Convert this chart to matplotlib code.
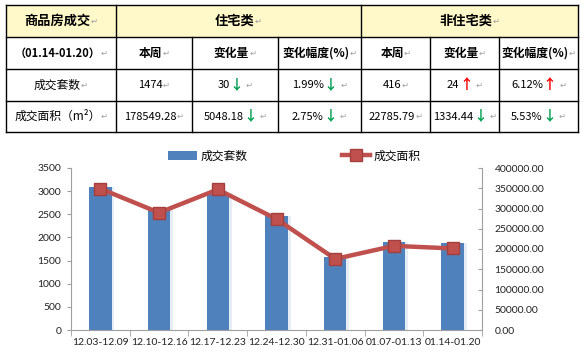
import numpy as np
import matplotlib
matplotlib.use('Agg')
import matplotlib.pyplot as plt
from matplotlib.patches import Rectangle

#%% data
periods = ['12.03-12.09', '12.10-12.16', '12.17-12.23', '12.24-12.30',
           '12.31-01.06', '01.07-01.13', '01.14-01.20']
units = [3080, 2590, 2960, 2460, 1580, 1896, 1890]          # 成交套数
area = [349000, 289600, 347000, 274000, 175500, 207717.69, 201335.07]  # 成交面积

head_title = '商品房成交'
head_groups = ['住宅类', '非住宅类']
week_label = '（01.14-01.20）'
sub_heads = ['本周', '变化量', '变化幅度(%)', '本周', '变化量', '变化幅度(%)']
row_names = ['成交套数', '成交面积（m²）']
row_now_res = ['1474', '178549.28']
row_chg_res = ['30', '5048.18']
row_pct_res = ['1.99%', '2.75%']
row_now_non = ['416', '22785.79']
row_chg_non = ['24', '1334.44']
row_pct_non = ['6.12%', '5.53%']
row_dir_res = ['down', 'down']
row_dir_non = [['up', 'up'], ['down', 'down']]

FAM = ['Noto Sans CJK SC', 'DejaVu Sans']
BLUE = '#4F81BD'
RED = '#C0504D'

fig = plt.figure(figsize=(5.83, 3.53), dpi=100)

#%% table (pixel coords)
tax = fig.add_axes([0, 0, 1, 1])
tax.set_xlim(0, 583)
tax.set_ylim(353, 0)
tax.axis('off')

cols = [6, 116, 192, 278, 361, 430, 499, 578]
rows = [5, 37, 69, 101, 132]
tax.add_patch(Rectangle((cols[0], rows[0]), cols[-1] - cols[0], rows[1] - rows[0],
                        facecolor='#FFF8C8', edgecolor='none'))
for y in rows:
    tax.plot([cols[0], cols[-1]], [y, y], color='black', lw=1)
for x in cols:
    if x in (6, 116, 361, 578):
        tax.plot([x, x], [rows[0], rows[-1]], color='black', lw=1)
    else:
        tax.plot([x, x], [rows[1], rows[-1]], color='black', lw=1)

renderer = fig.canvas.get_renderer()


def cell(xc, y, parts):
    texts = []
    for s, color, size, weight in parts:
        t = tax.text(0, y, s, color=color, fontsize=size, fontweight=weight,
                     va='center', ha='left', family=FAM)
        texts.append(t)
    widths = [t.get_window_extent(renderer).width for t in texts]
    x = xc - sum(widths) / 2
    for t, w in zip(texts, widths):
        t.set_x(x)
        x += w


RET = ('↵', '#A0A0A0', 6, 'normal')


def arrow(d):
    if d == 'up':
        return ('↑', '#FF0000', 10, 'heavy')
    return ('↓', '#00A050', 10, 'heavy')


mid = lambda a, b: (a + b) / 2
yr = [mid(rows[i], rows[i + 1]) for i in range(4)]

cell(mid(cols[0], cols[1]), yr[0], [(head_title, 'black', 9.5, 'bold'), RET])
cell(mid(cols[1], cols[4]), yr[0], [(head_groups[0], 'black', 9.5, 'bold'), RET])
cell(mid(cols[4], cols[7]), yr[0], [(head_groups[1], 'black', 9.5, 'bold'), RET])
cell(mid(cols[0], cols[1]), yr[1], [(week_label, 'black', 8, 'bold'), RET])
for i, h in enumerate(sub_heads):
    cell(mid(cols[i + 1], cols[i + 2]), yr[1], [(h, 'black', 8.5, 'bold'), RET])

for r in range(2):
    y = yr[r + 2]
    cell(mid(cols[0], cols[1]), y, [(row_names[r], 'black', 8.5, 'normal'), RET])
    cell(mid(cols[1], cols[2]), y, [(row_now_res[r], 'black', 8, 'normal'), RET])
    cell(mid(cols[2], cols[3]), y, [(row_chg_res[r], 'black', 8, 'normal'),
                                    arrow(row_dir_res[r]), (' ', 'black', 8, 'normal'), RET])
    cell(mid(cols[3], cols[4]), y, [(row_pct_res[r], 'black', 8, 'normal'),
                                    arrow(row_dir_res[r]), (' ', 'black', 8, 'normal'), RET])
    cell(mid(cols[4], cols[5]), y, [(row_now_non[r], 'black', 8, 'normal'), RET])
    cell(mid(cols[5], cols[6]), y, [(row_chg_non[r], 'black', 8, 'normal'),
                                    arrow(row_dir_non[r][0]), (' ', 'black', 8, 'normal'), RET])
    cell(mid(cols[6], cols[7]), y, [(row_pct_non[r], 'black', 8, 'normal'),
                                    arrow(row_dir_non[r][1]), (' ', 'black', 8, 'normal'), RET])

#%% chart
ax = fig.add_axes([71 / 583, 23 / 353, 411 / 583, 162 / 353])
x = np.arange(len(periods))
ax.bar(x + 0.03, units, width=0.42, color='#E6EDF5', zorder=1)
b = ax.bar(x, units, width=0.38, color=BLUE, zorder=2, label='成交套数')
ax.set_ylim(0, 3500)
ax.set_yticks(np.arange(0, 3501, 500))
ax.set_xlim(-0.5, len(periods) - 0.5)
ax.set_xticks(x)
ax.set_xticklabels(periods)
ax.set_xticks(np.arange(-0.5, len(periods), 1), minor=True)
ax.tick_params(axis='x', which='major', length=0, pad=6)
ax.tick_params(axis='x', which='minor', length=4, color='#A0A0A0')
ax.tick_params(axis='y', length=3, color='#A0A0A0', pad=4)
for lab in ax.get_xticklabels() + ax.get_yticklabels():
    lab.set_family('Lato')
    lab.set_fontsize(7.5)
    lab.set_color('#222222')
for s in ['top', 'right']:
    ax.spines[s].set_visible(False)
for s in ['left', 'bottom']:
    ax.spines[s].set_color('#A0A0A0')

ax2 = ax.twinx()
l, = ax2.plot(x, area, color=RED, lw=3.2, marker='s', markersize=8.5,
              markerfacecolor=RED, markeredgecolor='#A33F3C', label='成交面积', zorder=3)
ax2.set_ylim(0, 400000)
ax2.set_yticks(np.arange(0, 400001, 50000))
ax2.set_yticklabels(['%.2f' % v for v in np.arange(0, 400001, 50000)])
ax2.tick_params(axis='y', length=3, color='#A0A0A0', direction='in', pad=9)
for lab in ax2.get_yticklabels():
    lab.set_family('Lato')
    lab.set_fontsize(7.5)
    lab.set_color('#222222')
for s in ['top', 'left', 'bottom']:
    ax2.spines[s].set_visible(False)
ax2.spines['right'].set_color('#A0A0A0')

fig.legend([b, l], ['成交套数', '成交面积'], loc='center', ncol=2,
           bbox_to_anchor=(0.505, 0.558), frameon=False, columnspacing=8,
           handlelength=2.4, handletextpad=0.3, prop={'family': FAM, 'size': 8.5})

fig.savefig('out.png', dpi=100)
